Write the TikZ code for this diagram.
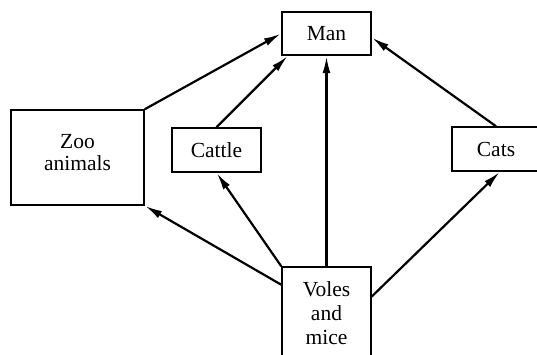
\documentclass[tikz,border=0pt]{standalone}
\usepackage{fontspec}
\setmainfont{Liberation Serif}
\usepackage{tikz}
\usetikzlibrary{arrows.meta}
\tikzset{
    box/.style={draw, line width=1.5pt, inner sep=0pt, align=center,
        font=\fontsize{21.5}{24}\selectfont}, % sets the properties for each box
    feeds/.style={line width=2.2pt, shorten >=0.5pt,
        -{Latex[length=17pt,width=8pt]}}, % the food links, long filled heads
}
\begin{document}
\begin{tikzpicture}[x=1pt, y=-1pt]
            \clip (0,0) rectangle (537,355);
            \node[box, minimum width=89pt, minimum height=43pt] (man) at (326.5,33.5) {Man};
            \node[box, minimum width=133pt, minimum height=95pt] (zoo) at (77.5,157.5) {Zoo\\[-2pt]animals\\[-13pt]};
            \node[box, minimum width=89pt, minimum height=44pt] (cattle) at (216.5,150) {Cattle};
            \node[box, minimum width=88pt, minimum height=44pt] (cats) at (496,149) {Cats};
            \node[box, minimum width=89pt, minimum height=92pt] (voles) at (326.5,313) {Voles\\and\\mice};

            \path[feeds]
                (zoo.north east) edge[feeds] (man.west)
                (cattle.north) edge[feeds] (man.210)
                (voles.north) edge[feeds] (man.south)
                (cats.north) edge[feeds] (man.-5)
                (voles.148) edge[feeds] (zoo.south east)
                (voles.north west) edge[feeds] (cattle.south)
                (voles.20) edge[feeds] (cats.-80);
        \end{tikzpicture}
\end{document}
